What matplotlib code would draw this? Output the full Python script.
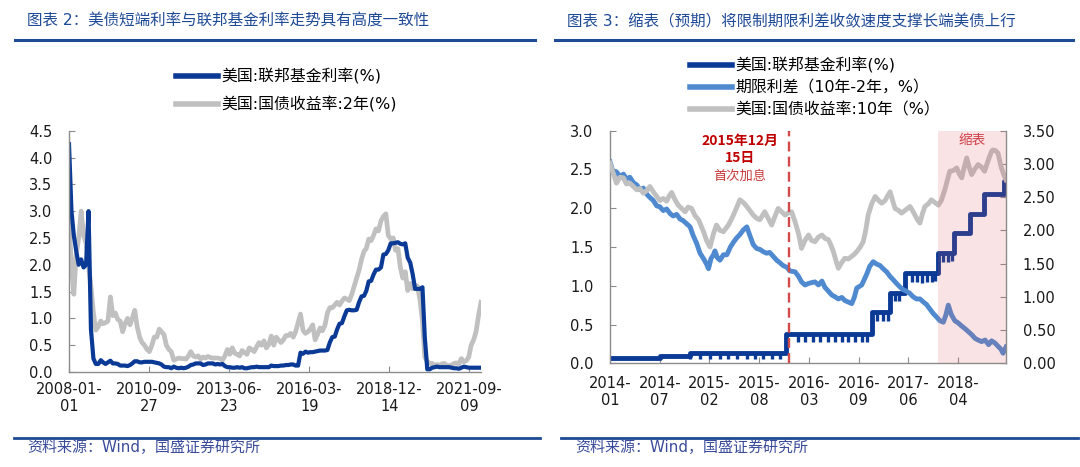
import numpy as np
import pandas as pd
import matplotlib
matplotlib.use("Agg")
import matplotlib.pyplot as plt
from matplotlib.lines import Line2D

plt.rcParams['font.family'] = ['DejaVu Sans', 'Noto Sans CJK SC']

W, H = 1080, 467
NAVY = '#0A3A96'
MIDBLUE = '#4F8AD0'
GRAY = '#C0C0C0'
TITLE_BLUE = '#1F4A96'
TEXT_BLUE = '#3A4C9A'
AXIS_GRAY = '#8C8C8C'

# ---------------- chart 2 data (monthly, 2008-01 .. 2022-02) ----------------
fed_funds_m = [
    4.25, 3.00, 2.55, 2.25, 2.00, 2.10, 1.95, 2.00, 3.00, 0.80, 0.25, 0.15,  # 2008
    0.15, 0.22, 0.18, 0.15, 0.18, 0.21, 0.16, 0.16, 0.15, 0.12, 0.12, 0.12,  # 2009
    0.11, 0.13, 0.16, 0.20, 0.20, 0.18, 0.18, 0.19, 0.19, 0.19, 0.19, 0.18,  # 2010
    0.17, 0.16, 0.14, 0.10, 0.09, 0.09, 0.07, 0.10, 0.08, 0.07, 0.08, 0.07,  # 2011
    0.08, 0.10, 0.13, 0.14, 0.16, 0.16, 0.16, 0.13, 0.14, 0.16, 0.16, 0.16,  # 2012
    0.14, 0.15, 0.14, 0.15, 0.11, 0.09, 0.09, 0.08, 0.08, 0.09, 0.08, 0.09,  # 2013
    0.07, 0.07, 0.08, 0.09, 0.09, 0.10, 0.09, 0.09, 0.09, 0.09, 0.09, 0.12,  # 2014
    0.11, 0.11, 0.11, 0.12, 0.12, 0.13, 0.13, 0.14, 0.14, 0.12, 0.12, 0.36,  # 2015
    0.34, 0.38, 0.36, 0.37, 0.37, 0.38, 0.39, 0.40, 0.40, 0.40, 0.41, 0.55,  # 2016
    0.65, 0.66, 0.79, 0.90, 0.91, 1.04, 1.15, 1.16, 1.15, 1.15, 1.16, 1.30,  # 2017
    1.41, 1.42, 1.51, 1.69, 1.70, 1.82, 1.91, 1.91, 1.95, 2.19, 2.20, 2.27,  # 2018
    2.40, 2.40, 2.41, 2.42, 2.39, 2.38, 2.40, 2.13, 2.04, 1.83, 1.55, 1.55,  # 2019
    1.55, 1.58, 0.65, 0.05, 0.05, 0.08, 0.09, 0.10, 0.09, 0.09, 0.09, 0.09,  # 2020
    0.09, 0.08, 0.07, 0.07, 0.06, 0.08, 0.10, 0.09, 0.08, 0.08, 0.08, 0.08,  # 2021
    0.08, 0.08,                                                              # 2022
]
us_2y = [
    2.80, 2.00, 1.45, 2.20, 2.50, 3.00, 2.55, 2.40, 2.00, 1.60, 1.10, 0.78,  # 2008
    0.85, 0.95, 0.90, 0.92, 0.95, 1.40, 1.05, 1.10, 0.98, 0.95, 0.75, 0.90,  # 2009
    1.00, 0.88, 1.00, 1.15, 0.85, 0.65, 0.55, 0.50, 0.42, 0.38, 0.50, 0.65,  # 2010
    0.65, 0.80, 0.75, 0.70, 0.50, 0.42, 0.38, 0.22, 0.24, 0.26, 0.25, 0.25,  # 2011
    0.24, 0.30, 0.38, 0.30, 0.28, 0.30, 0.24, 0.28, 0.26, 0.29, 0.27, 0.26,  # 2012
    0.26, 0.26, 0.25, 0.22, 0.30, 0.42, 0.33, 0.45, 0.35, 0.33, 0.30, 0.40,  # 2013
    0.36, 0.33, 0.45, 0.42, 0.38, 0.47, 0.55, 0.50, 0.58, 0.45, 0.52, 0.67,  # 2014
    0.50, 0.65, 0.60, 0.55, 0.60, 0.68, 0.68, 0.72, 0.65, 0.75, 0.92, 1.08,  # 2015
    0.78, 0.72, 0.75, 0.80, 0.88, 0.60, 0.70, 0.82, 0.77, 0.87, 1.10, 1.20,  # 2016
    1.20, 1.25, 1.30, 1.25, 1.32, 1.38, 1.36, 1.33, 1.45, 1.60, 1.75, 1.90,  # 2017
    2.10, 2.25, 2.30, 2.48, 2.45, 2.55, 2.67, 2.63, 2.82, 2.90, 2.95, 2.55,  # 2018
    2.48, 2.50, 2.27, 2.30, 1.95, 1.75, 1.87, 1.52, 1.65, 1.55, 1.62, 1.60,  # 2019
    1.35, 0.95, 0.28, 0.20, 0.16, 0.16, 0.12, 0.14, 0.13, 0.15, 0.16, 0.12,  # 2020
    0.12, 0.13, 0.16, 0.17, 0.15, 0.25, 0.19, 0.21, 0.28, 0.50, 0.60, 0.75,  # 2021
    1.05, 1.30,                                                              # 2022
]
months = pd.date_range('2008-01-01', periods=len(us_2y), freq='MS')
c2_ticks = pd.to_datetime(['2008-01-01', '2010-09-27', '2013-06-23',
                           '2016-03-19', '2018-12-14', '2021-09-09'])
c2_ticklabels = ['2008-01-\n01', '2010-09-\n27', '2013-06-\n23',
                 '2016-03-\n19', '2018-12-\n14', '2021-09-\n09']

# ---------------- chart 3 data (x in axis-label units, 2014-01 = 0) ----------------
c3_ticklabels = ['2014-\n01', '2014-\n07', '2015-\n02', '2015-\n08',
                 '2016-\n03', '2016-\n09', '2017-\n06', '2018-\n04']
c3_end = 7.96
rate_hike_x = 3.60
qt_start_x = 6.60

ff_x = [0, 1.0, 1.6, 3.53, 5.27, 5.63, 5.92, 6.60, 6.92, 7.24, 7.52, 7.92, 7.96]
ff_level = [0.07, 0.09, 0.13, 0.38, 0.66, 0.91, 1.16, 1.42, 1.68, 1.92, 2.18, 2.35, 2.35]
# month-end dips of the effective rate (position, low value)
ff_dip_x = [1.61, 1.81, 2.01, 2.21, 2.38, 2.55, 2.75, 2.91, 3.08, 3.25, 3.42,
            3.78, 3.92, 4.09, 4.22, 4.39, 4.52, 4.66, 4.79, 4.92, 5.06, 5.16,
            5.36, 5.48, 5.58, 5.72, 5.81,
            6.07, 6.17, 6.27, 6.37, 6.47, 6.53, 6.70, 6.80, 6.87]
ff_dip_low = [0.06, 0.06, 0.06, 0.06, 0.06, 0.06, 0.06, 0.06, 0.06, 0.06, 0.06,
              0.27, 0.27, 0.28, 0.27, 0.27, 0.28, 0.27, 0.27, 0.28, 0.27, 0.28,
              0.54, 0.55, 0.54, 0.80, 0.80,
              1.05, 1.05, 1.04, 1.05, 1.05, 1.06, 1.31, 1.31, 1.32]

spread_x = [0, 0.07, 0.13, 0.20, 0.27, 0.33, 0.40, 0.47, 0.54, 0.60, 0.67, 0.74, 0.80,
            0.87, 0.94, 1.00, 1.07, 1.14, 1.21, 1.27, 1.34, 1.41, 1.47, 1.54, 1.61,
            1.67, 1.74, 1.81, 1.88, 1.94, 1.98, 2.03, 2.08, 2.11, 2.16, 2.21, 2.28,
            2.35, 2.42, 2.48, 2.55, 2.61, 2.68, 2.75, 2.81, 2.88, 2.95, 3.01, 3.08,
            3.15, 3.21, 3.28, 3.35, 3.41, 3.48, 3.55, 3.62, 3.72, 3.79, 3.85, 3.92,
            3.99, 4.05, 4.12, 4.19, 4.26, 4.32, 4.39, 4.46, 4.52, 4.59, 4.66, 4.72,
            4.79, 4.86, 4.91, 4.96, 5.01, 5.06, 5.11, 5.16, 5.22, 5.29, 5.36, 5.43,
            5.49, 5.56, 5.63, 5.69, 5.76, 5.82, 5.89, 5.96, 6.03, 6.09, 6.16, 6.23,
            6.30, 6.36, 6.43, 6.50, 6.56, 6.63, 6.70, 6.75, 6.80, 6.86, 6.93, 7.00,
            7.07, 7.13, 7.20, 7.27, 7.34, 7.40, 7.47, 7.54, 7.61, 7.67, 7.74, 7.80,
            7.86, 7.90, 7.96]
spread = [2.60, 2.45, 2.47, 2.41, 2.44, 2.38, 2.40, 2.33, 2.30, 2.24, 2.26, 2.18, 2.14,
          2.10, 2.03, 2.02, 1.97, 1.99, 1.93, 1.90, 1.92, 1.86, 1.84, 1.80, 1.76,
          1.65, 1.55, 1.42, 1.35, 1.28, 1.22, 1.35, 1.40, 1.45, 1.36, 1.33, 1.40,
          1.40, 1.50, 1.56, 1.62, 1.66, 1.72, 1.76, 1.65, 1.53, 1.48, 1.47, 1.44,
          1.42, 1.43, 1.38, 1.33, 1.30, 1.26, 1.24, 1.19, 1.18, 1.12, 1.05, 1.01,
          1.03, 1.04, 1.05, 1.01, 1.06, 0.98, 0.93, 0.88, 0.86, 0.83, 0.85, 0.81,
          0.79, 0.77, 0.85, 0.97, 0.99, 1.01, 1.08, 1.15, 1.25, 1.31, 1.28, 1.26,
          1.22, 1.18, 1.12, 1.08, 1.03, 0.99, 0.95, 0.93, 0.90, 0.86, 0.83, 0.83,
          0.79, 0.76, 0.70, 0.64, 0.60, 0.55, 0.53, 0.62, 0.75, 0.63, 0.55, 0.52,
          0.48, 0.45, 0.41, 0.37, 0.32, 0.30, 0.28, 0.30, 0.24, 0.29, 0.26, 0.22,
          0.18, 0.13, 0.21]

y10_x = [0, 0.07, 0.13, 0.20, 0.27, 0.33, 0.40, 0.47, 0.54, 0.60, 0.67, 0.74, 0.80,
         0.87, 0.94, 1.00, 1.07, 1.14, 1.19, 1.24, 1.30, 1.37, 1.44, 1.51, 1.57,
         1.64, 1.71, 1.78, 1.84, 1.88, 1.94, 2.01, 2.08, 2.14, 2.21, 2.28, 2.33,
         2.38, 2.43, 2.48, 2.55, 2.61, 2.68, 2.75, 2.81, 2.88, 2.95, 3.01, 3.06,
         3.11, 3.18, 3.25, 3.31, 3.38, 3.45, 3.52, 3.58, 3.65, 3.72, 3.79, 3.85,
         3.92, 3.99, 4.05, 4.12, 4.19, 4.26, 4.32, 4.39, 4.44, 4.49, 4.54, 4.59,
         4.66, 4.72, 4.79, 4.86, 4.91, 4.96, 5.03, 5.09, 5.14, 5.19, 5.26, 5.33,
         5.40, 5.46, 5.53, 5.58, 5.63, 5.68, 5.73, 5.80, 5.86, 5.93, 5.98, 6.03,
         6.08, 6.13, 6.18, 6.23, 6.28, 6.33, 6.40, 6.46, 6.53, 6.60, 6.66, 6.73,
         6.78, 6.83, 6.90, 6.97, 7.02, 7.07, 7.12, 7.17, 7.22, 7.27, 7.33, 7.40,
         7.47, 7.53, 7.60, 7.67, 7.70, 7.75, 7.80, 7.86, 7.91, 7.96]
y10 = [3.01, 2.85, 2.71, 2.80, 2.79, 2.70, 2.71, 2.66, 2.61, 2.63, 2.56, 2.60, 2.66,
       2.58, 2.51, 2.45, 2.48, 2.44, 2.52, 2.57, 2.47, 2.38, 2.33, 2.28, 2.35,
       2.33, 2.22, 2.16, 2.05, 1.98, 1.85, 1.75, 1.95, 2.08, 2.00, 1.98, 2.03,
       2.08, 2.15, 2.23, 2.35, 2.46, 2.42, 2.36, 2.30, 2.23, 2.18, 2.16, 2.22,
       2.28, 2.18, 2.08, 2.20, 2.33, 2.28, 2.23, 2.26, 2.28, 2.13, 1.95, 1.73,
       1.85, 1.93, 1.85, 1.83, 1.90, 1.93, 1.88, 1.86, 1.78, 1.68, 1.55, 1.43,
       1.52, 1.58, 1.57, 1.61, 1.64, 1.68, 1.75, 1.83, 2.00, 2.23, 2.40, 2.51,
       2.45, 2.41, 2.45, 2.52, 2.58, 2.45, 2.33, 2.30, 2.26, 2.30, 2.33, 2.36,
       2.30, 2.23, 2.16, 2.11, 2.25, 2.36, 2.40, 2.46, 2.42, 2.38, 2.45, 2.61,
       2.75, 2.89, 2.90, 2.94, 2.85, 2.79, 2.95, 3.09, 2.95, 2.84, 2.92, 2.99,
       2.95, 2.89, 3.05, 3.19, 3.21, 3.20, 3.16, 2.96, 2.85, 2.76]

fig = plt.figure(figsize=(W / 100, H / 100), dpi=100)


def style_axis(ax):
    ax.tick_params(direction='in', length=4, width=0.8, color=AXIS_GRAY,
                   labelsize=10.5, labelcolor='#1a1a1a')
    ax.tick_params(axis='y', pad=12)
    ax.tick_params(axis='x', pad=9)
    for s in ax.spines.values():
        s.set_color(AXIS_GRAY)
        s.set_linewidth(1.0)


# ---------------- chart 2 ----------------
ax1 = fig.add_axes([69 / W, 1 - 372 / H, 412 / W, (372 - 130.7) / H])
ax1.plot(months, us_2y, color=GRAY, lw=3.4, solid_joinstyle='round')
ax1.plot(months, fed_funds_m, color=NAVY, lw=3.0, solid_joinstyle='round')
ax1.set_xlim(months[0], months[-1])
ax1.set_ylim(0, 4.5)
ax1.set_yticks(np.arange(0, 4.51, 0.5))
ax1.set_yticklabels([f'{v:.1f}' for v in np.arange(0, 4.51, 0.5)])
ax1.set_xticks(c2_ticks)
ax1.set_xticklabels(c2_ticklabels, linespacing=1.2)
ax1.spines['top'].set_visible(False)
ax1.spines['right'].set_visible(False)
style_axis(ax1)
ax1.tick_params(axis='x', pad=7)

fig.legend(handles=[Line2D([], [], color=NAVY, lw=4),
                    Line2D([], [], color=GRAY, lw=4)],
           labels=['美国:联邦基金利率(%)', '美国:国债收益率:2年(%)'],
           loc='upper left', bbox_to_anchor=(176 / W, 1 - 68.5 / H),
           frameon=False, fontsize=11.4, handlelength=2.65, handletextpad=0.2,
           labelspacing=0.73, borderpad=0, borderaxespad=0)

# ---------------- chart 3 ----------------
ax3 = fig.add_axes([610 / W, 1 - 363.3 / H, 396 / W, (363.3 - 130.7) / H])
ax3.step(ff_x, ff_level, where='post', color=NAVY, lw=3.5)
dip_top = [ff_level[np.searchsorted(ff_x, x, side='right') - 1] for x in ff_dip_x]
ax3.vlines(ff_dip_x, ff_dip_low, dip_top, color=NAVY, lw=2.4)
ax3.plot(spread_x, spread, color=MIDBLUE, lw=3.5, solid_joinstyle='round')
ax3.set_xlim(0, c3_end)
ax3.set_ylim(0, 3.0)
ax3.set_yticks(np.arange(0, 3.01, 0.5))
ax3.set_yticklabels([f'{v:.1f}' for v in np.arange(0, 3.01, 0.5)])
ax3.set_xticks(range(len(c3_ticklabels)))
ax3.set_xticklabels(c3_ticklabels, linespacing=1.2)
ax3.spines['top'].set_visible(False)
ax3.spines['right'].set_visible(False)
style_axis(ax3)

ax4 = ax3.twinx()
ax4.plot(y10_x, y10, color=GRAY, lw=3.5, solid_joinstyle='round')
ax4.set_ylim(0, 3.5)
ax4.set_yticks(np.arange(0, 3.51, 0.5))
ax4.set_yticklabels([f'{v:.2f}' for v in np.arange(0, 3.51, 0.5)])
for s in ['top', 'left', 'bottom']:
    ax4.spines[s].set_visible(False)
style_axis(ax4)

ax4.axvspan(qt_start_x, c3_end, color='#E15559', alpha=0.16, lw=0, zorder=5)
ax4.axvline(rate_hike_x, color='#D24A4A', lw=1.7, ls=(0, (4.2, 2.2)), zorder=6)
ax3.text(2.61, 2.76, '2015年12月\n15日', color='#C00000', fontsize=10,
         fontweight='bold', ha='center', va='center', linespacing=1.25,
         family=['Noto Sans CJK SC'])
ax3.text(2.61, 2.41, '首次加息', color='#C83C3C', fontsize=9.5, ha='center',
         va='center', family=['Noto Sans CJK SC'])
ax4.text(7.27, 3.36, '缩表', color='#D0404A', fontsize=9.8, ha='center',
         va='center', zorder=7, family=['Noto Sans CJK SC'])

fig.legend(handles=[Line2D([], [], color=NAVY, lw=4),
                    Line2D([], [], color=MIDBLUE, lw=4),
                    Line2D([], [], color=GRAY, lw=4)],
           labels=['美国:联邦基金利率(%)', '期限利差（10年-2年，%）',
                   '美国:国债收益率:10年（%）'],
           loc='upper left', bbox_to_anchor=(690 / W, 1 - 57.5 / H),
           frameon=False, fontsize=11.4, handlelength=2.65, handletextpad=0.2,
           labelspacing=0.44, borderpad=0, borderaxespad=0)

# ---------------- titles and footers ----------------
for x0, title in [(27, '图表 2：美债短端利率与联邦基金利率走势具有高度一致性'),
                  (567, '图表 3：缩表（预期）将限制期限利差收敛速度支撑长端美债上行')]:
    fig.text(x0 / W, 1 - 21.5 / H, title, color=TITLE_BLUE, fontsize=11.2,
             va='center', ha='left')
for x0, x1 in [(15, 535), (555, 1073)]:
    fig.add_artist(Line2D([x0 / W, x1 / W], [1 - 39.5 / H] * 2,
                          transform=fig.transFigure, color=TITLE_BLUE, lw=2.2))
for x0, x1 in [(14, 540), (561, 1078)]:
    fig.add_artist(Line2D([x0 / W, x1 / W], [1 - 437.5 / H] * 2,
                          transform=fig.transFigure, color=TITLE_BLUE, lw=2.0))
for x0 in [27, 575]:
    fig.text(x0 / W, 1 - 448 / H, '资料来源：Wind，国盛证券研究所',
             color=TEXT_BLUE, fontsize=10.8, va='center', ha='left')

fig.savefig('out.png', dpi=100)
